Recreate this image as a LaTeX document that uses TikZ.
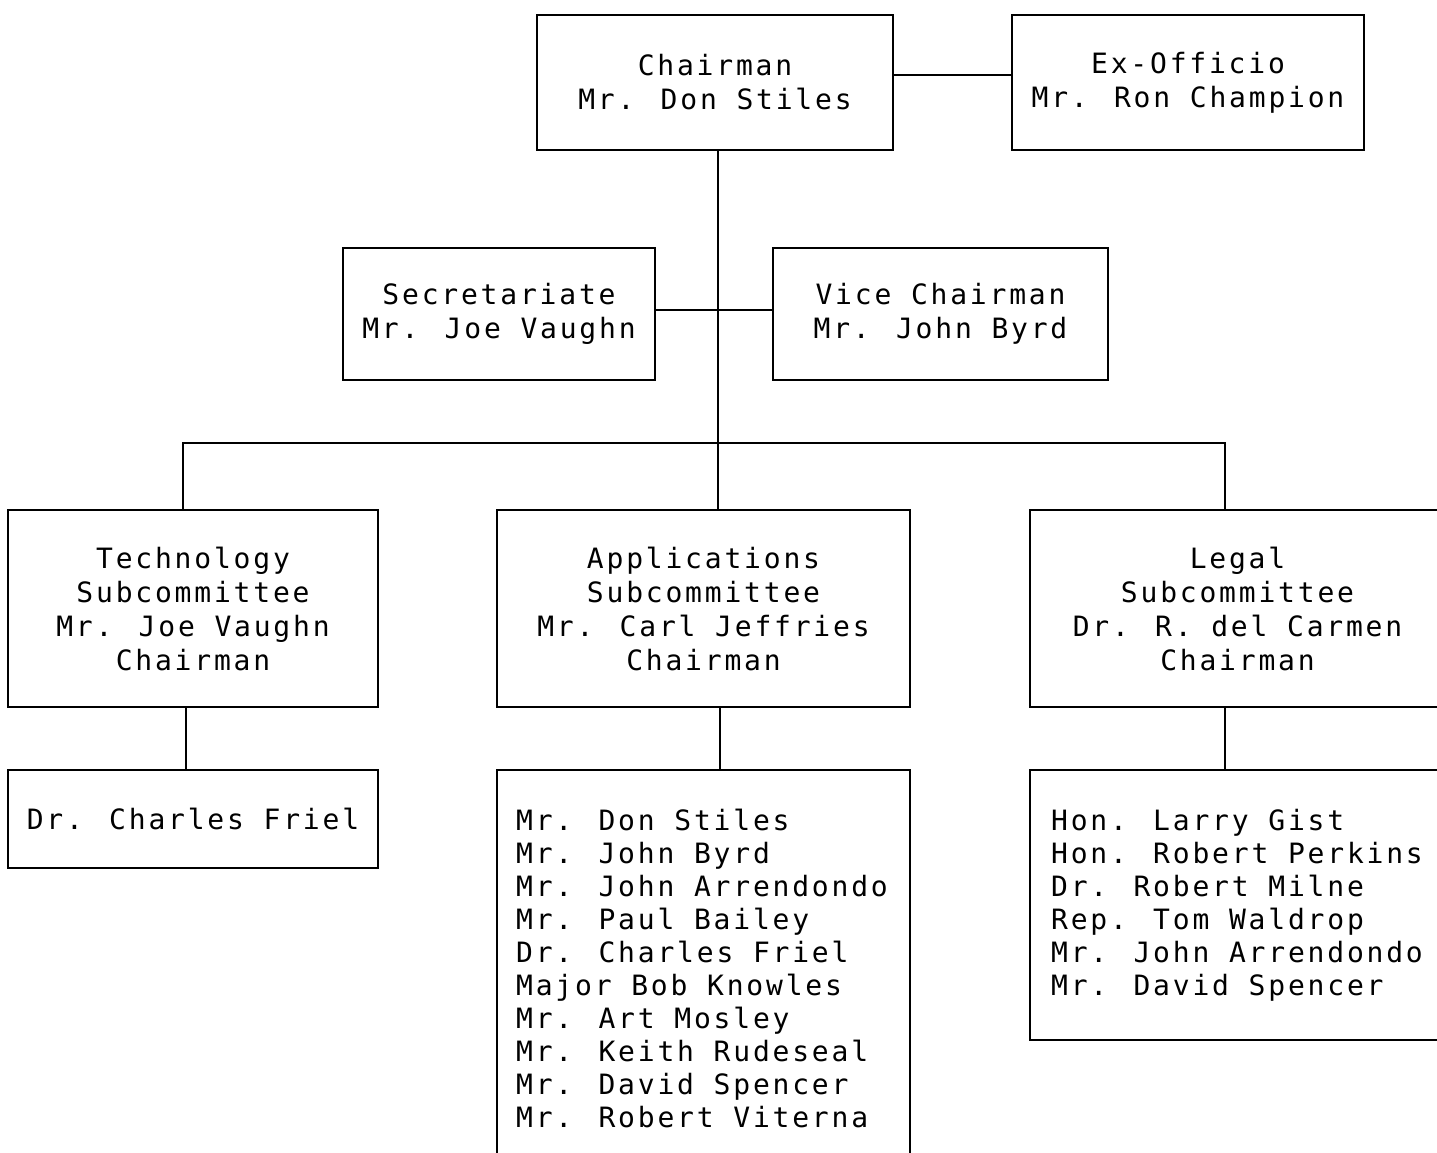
\documentclass[tikz,border=0pt]{standalone}
\usepackage{fontspec}
\newfontfamily\typew[LetterSpace=10]{DejaVu Sans Mono}
\begin{document}
\begin{tikzpicture}[x=1pt,y=-1pt,
  box/.style={draw,line width=1.8pt,rectangle,inner sep=0pt,align=center,font=\typew\fontsize{28}{34}\selectfont},
  listtext/.style={inner sep=0pt,align=left,anchor=west,font=\typew\fontsize{28}{33}\selectfont},
  conn/.style={line width=1.8pt}]
\useasboundingbox (0,0) rectangle (1437,1152);
% top level
\node[box,minimum width=356pt,minimum height=135pt] (chair) at (715,82.5) {Chairman\\Mr. Don Stiles};
\node[box,minimum width=352pt,minimum height=135pt] (exo) at (1188,82.5) {Ex-Officio\\Mr. Ron Champion};
% second level
\node[box,minimum width=312pt,minimum height=132pt] (sec) at (499,314) {Secretariate\\Mr. Joe Vaughn};
\node[box,minimum width=335pt,minimum height=132pt] (vice) at (940.5,314) {Vice Chairman\\Mr. John Byrd};
% subcommittees
\node[box,minimum width=370pt,minimum height=197pt] (tech) at (193,608.5) {Technology\\Subcommittee\\Mr. Joe Vaughn\\Chairman};
\node[box,minimum width=413pt,minimum height=197pt] (apps) at (703.5,608.5) {Applications\\Subcommittee\\Mr. Carl Jeffries\\Chairman};
\node[box,minimum width=415pt,minimum height=197pt] (legal) at (1237.5,608.5) {Legal\\Subcommittee\\Dr. R. del Carmen\\Chairman};
% members
\node[box,minimum width=370pt,minimum height=98pt] (friel) at (193,819) {Dr. Charles Friel};
\node[box,minimum width=413pt,minimum height=400pt] (appbox) at (703.5,970) {};
\node[box,minimum width=415pt,minimum height=270pt] (legbox) at (1237.5,905) {};
\node[listtext] (applist) at (516,968) {Mr. Don Stiles\\Mr. John Byrd\\Mr. John Arrendondo\\Mr. Paul Bailey\\Dr. Charles Friel\\Major Bob Knowles\\Mr. Art Mosley\\Mr. Keith Rudeseal\\Mr. David Spencer\\Mr. Robert Viterna};
\node[listtext] (leglist) at (1051,905) {Hon. Larry Gist\\Hon. Robert Perkins\\Dr. Robert Milne\\Rep. Tom Waldrop\\Mr. John Arrendondo\\Mr. David Spencer};
% connectors
\coordinate (hub) at (718,443);
\coordinate (bl) at (183,443);
\coordinate (br) at (1225,443);
\coordinate (t2) at (186,740);
\coordinate (a2) at (720,740);
\coordinate (l2) at (1225,740);
\draw[conn] ([yshift=7.5pt]chair.east) -- ([yshift=7.5pt]exo.west);
\draw[conn] (hub |- chair.south) -- (hub);
\draw[conn] ([yshift=4pt]sec.east) -- ([yshift=4pt]vice.west);
\draw[conn] (tech.north -| bl) -- (bl) -- (br) -- (legal.north -| br);
\draw[conn] (hub) -- (hub |- apps.north);
\draw[conn] (t2 |- tech.south) -- (t2 |- friel.north);
\draw[conn] (a2 |- apps.south) -- (a2 |- appbox.north);
\draw[conn] (l2 |- legal.south) -- (l2 |- legbox.north);
\end{tikzpicture}
\end{document}
